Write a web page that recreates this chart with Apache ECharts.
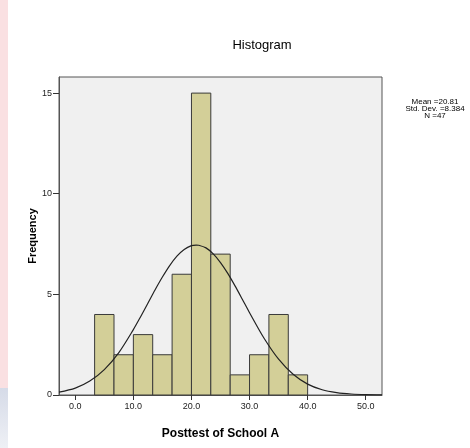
<!doctype html>
<html>
<head>
<meta charset="utf-8">
<script src="https://cdn.jsdelivr.net/npm/echarts@6/dist/echarts.min.js"></script>
<style>
  html, body { margin: 0; padding: 0; background: #fff; }
  #main { width: 470px; height: 448px; }
</style>
</head>
<body>
<div id="main"></div>
<script>
// histogram bins (edges) and counts
var binEdges = [3.33, 6.67, 10, 13.33, 16.67, 20, 23.33, 26.67, 30, 33.33, 36.67, 40];
var counts = [4, 2, 3, 2, 6, 15, 7, 1, 2, 4, 1];
// normal curve
var curveX = [-2.8, 0, 2.5, 5, 7.5, 10, 11.25, 12.5, 13.75, 15, 16.25, 17.5, 18.75, 20, 20.8, 21.25, 22.5, 23.75, 25, 26.25, 27.5, 28.75, 30, 32.5, 35, 37.5, 40, 42.5, 45, 47.5, 50, 52.8];
var curveY = [0.14, 0.34, 0.69, 1.26, 2.11, 3.25, 3.89, 4.56, 5.23, 5.86, 6.43, 6.9, 7.23, 7.42, 7.45, 7.44, 7.31, 7.01, 6.58, 6.04, 5.42, 4.76, 4.09, 2.82, 1.78, 1.03, 0.54, 0.26, 0.12, 0.05, 0.02, 0.01];
var xTicks = [0, 10, 20, 30, 40, 50];
var yTicks = [0, 5, 10, 15];
var statsLines = ['Mean =20.81', 'Std. Dev. =8.384', 'N =47'];

var barData = counts.map(function (c, i) { return [binEdges[i], binEdges[i + 1], c]; });
var lineData = curveX.map(function (x, i) { return [x, curveY[i]]; });

var chart = echarts.init(document.getElementById('main'));
var font = 'Liberation Sans, Arial, sans-serif';

chart.setOption({
    animation: false,
    title: {
        text: 'Histogram',
        left: 257, top: 34, textAlign: 'center',
        textStyle: { fontFamily: font, fontSize: 13, fontWeight: 'normal', color: '#000' }
    },
    grid: {
        left: 59, right: 88, top: 77, bottom: 53,
        show: true, backgroundColor: '#f0f0f0', borderColor: '#555', borderWidth: 1
    },
    xAxis: {
        type: 'value', min: -2.8, max: 52.8,
        name: 'Posttest of School A', nameLocation: 'middle', nameGap: 33,
        nameTextStyle: { fontFamily: font, fontSize: 12, fontWeight: 'bold', color: '#000' },
        axisLine: { show: true, onZero: false, lineStyle: { color: '#555' } },
        axisTick: { show: true, length: 5, customValues: xTicks, lineStyle: { color: '#333' } },
        axisLabel: {
            customValues: xTicks, margin: 7,
            fontFamily: font, fontSize: 9, color: '#222',
            formatter: function (v) { return v.toFixed(1); }
        },
        splitLine: { show: false }
    },
    yAxis: {
        type: 'value', min: 0, max: 15.8,
        axisLine: { show: true, onZero: false, lineStyle: { color: '#555' } },
        axisTick: { show: true, length: 6, customValues: yTicks, lineStyle: { color: '#333' } },
        axisLabel: { customValues: yTicks, margin: 7, fontFamily: font, fontSize: 9, color: '#222' },
        splitLine: { show: false }
    },
    graphic: [
        { type: 'rect', left: 0, top: 0, z: -10, shape: { width: 8, height: 388 }, style: { fill: '#fae0e2' } },
        { type: 'rect', left: 0, top: 388, z: -10, shape: { width: 8, height: 60 },
          style: { fill: new echarts.graphic.LinearGradient(0, 0, 0, 1, [
              { offset: 0, color: '#d6dbe8' }, { offset: 1, color: '#eef0f5' }]) } },
        {
            type: 'text', x: 33, y: 236, rotation: Math.PI / 2,
            style: {
                text: 'Frequency', align: 'center', verticalAlign: 'middle',
                fontFamily: font, fontSize: 11, fontWeight: 'bold', fill: '#000'
            }
        },
        {
            type: 'text', x: 435, y: 98,
            style: {
                text: statsLines.join('\n'), align: 'center',
                fontFamily: font, fontSize: 8, lineHeight: 7, fill: '#000'
            }
        }
    ],
    series: [
        {
            type: 'custom',
            data: barData,
            encode: { x: [0, 1], y: 2 },
            renderItem: function (params, api) {
                var p0 = api.coord([api.value(0), api.value(2)]);
                var p1 = api.coord([api.value(1), 0]);
                return {
                    type: 'rect',
                    shape: { x: p0[0], y: p0[1], width: p1[0] - p0[0], height: p1[1] - p0[1] },
                    style: { fill: '#d3cf98', stroke: '#3a3a3a', lineWidth: 1 }
                };
            },
            z: 2
        },
        {
            type: 'line',
            data: lineData,
            smooth: 0.3,
            showSymbol: false,
            lineStyle: { color: '#222', width: 1.2 },
            z: 3
        }
    ]
});
</script>
</body>
</html>
